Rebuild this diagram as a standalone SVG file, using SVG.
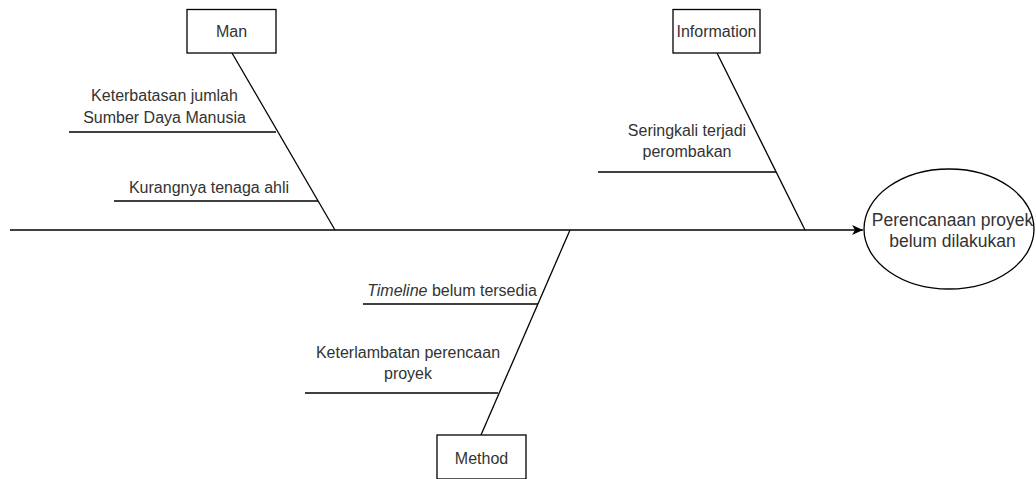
<svg xmlns="http://www.w3.org/2000/svg" width="1036" height="479" viewBox="0 0 1036 479">
<style>
.box{fill:#fff;stroke:#000;stroke-width:1.3}
.ln{stroke:#000;stroke-width:1.3;fill:none}
.t{font-family:"Liberation Sans",Arial,sans-serif;font-size:16px;fill:#333;text-anchor:middle}
.te{font-size:17.5px}
</style>
<defs>
<marker id="ah" markerWidth="12" markerHeight="10" refX="11" refY="5" orient="auto" markerUnits="userSpaceOnUse">
<path d="M0,0 L11,5 L0,10 L3,5 Z" fill="#000"/>
</marker>
</defs>
<rect width="1036" height="479" fill="#fff"/>
<g id="connectors">
<line class="ln" x1="10" y1="230" x2="863" y2="230" marker-end="url(#ah)"/>
<line class="ln" x1="232" y1="53" x2="335" y2="230"/>
<line class="ln" x1="717" y1="53" x2="805" y2="230"/>
<line class="ln" x1="570" y1="230" x2="481" y2="435"/>
<line class="ln" x1="69" y1="132" x2="276" y2="132"/>
<line class="ln" x1="114" y1="201" x2="318" y2="201"/>
<line class="ln" x1="598" y1="172" x2="776" y2="172"/>
<line class="ln" x1="363" y1="304" x2="538" y2="304"/>
<line class="ln" x1="305" y1="393" x2="498" y2="393"/>
</g>
<g id="man">
<rect class="box" x="187" y="9.5" width="89" height="43.5"/>
<text class="t" x="231.5" y="37">Man</text>
</g>
<g id="information">
<rect class="box" x="673" y="9.5" width="87" height="43.5"/>
<text class="t" x="716.5" y="37">Information</text>
</g>
<g id="method">
<rect class="box" x="437" y="435" width="89" height="44"/>
<text class="t" x="481.5" y="464">Method</text>
</g>
<g id="effect">
<ellipse class="box" cx="949" cy="229" rx="85" ry="60"/>
<text class="t te" x="952.5" y="225.5">Perencanaan proyek</text>
<text class="t te" x="952.5" y="247">belum dilakukan</text>
</g>
<g id="cause-sdm">
<text class="t" x="164.5" y="101">Keterbatasan jumlah</text>
<text class="t" x="164.5" y="122.5">Sumber Daya Manusia</text>
</g>
<g id="cause-ahli">
<text class="t" x="209" y="193">Kurangnya tenaga ahli</text>
</g>
<g id="cause-perombakan">
<text class="t" x="687" y="136">Seringkali terjadi</text>
<text class="t" x="687" y="157">perombakan</text>
</g>
<g id="cause-timeline">
<text class="t" x="452" y="296"><tspan font-style="italic">Timeline</tspan> belum tersedia</text>
</g>
<g id="cause-keterlambatan">
<text class="t" x="408" y="358">Keterlambatan perencaan</text>
<text class="t" x="408" y="379">proyek</text>
</g>
</svg>
